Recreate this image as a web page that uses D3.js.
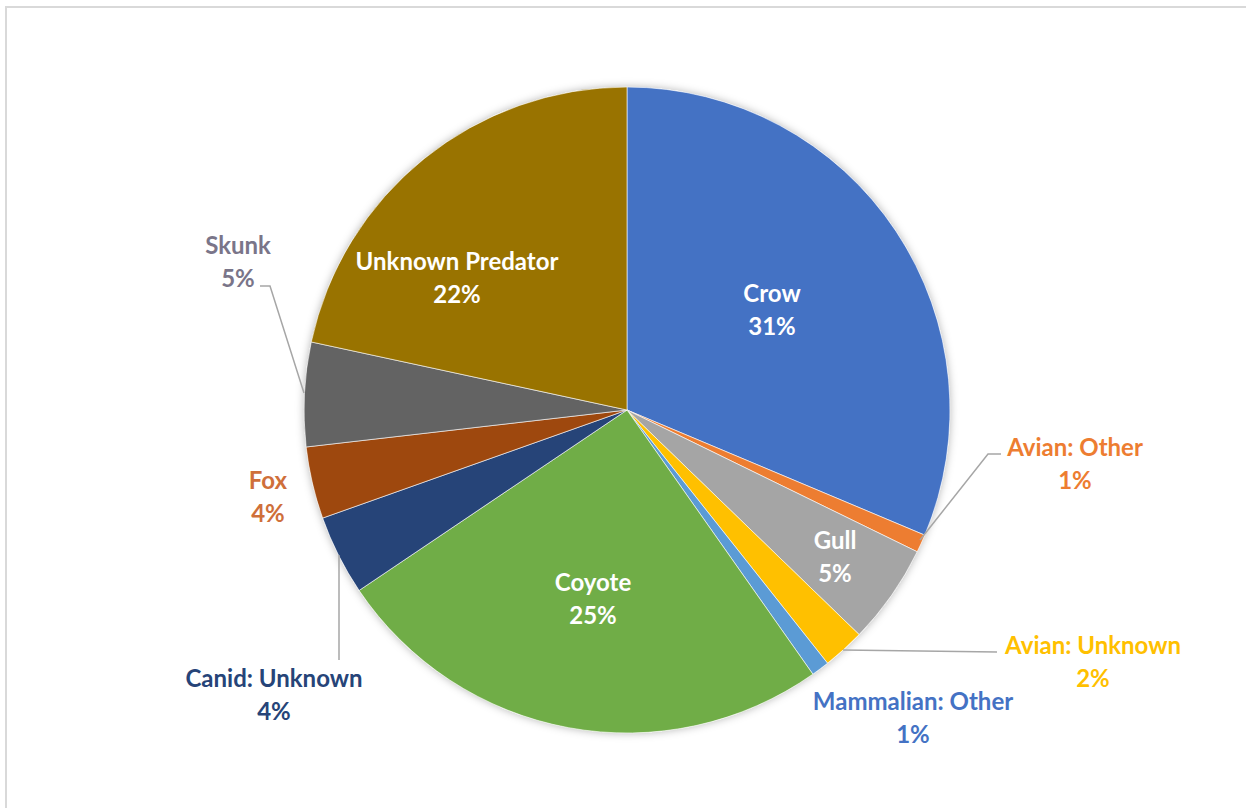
<!DOCTYPE html>
<html>
<head>
<meta charset="utf-8">
<script src="https://cdn.jsdelivr.net/npm/d3@7"></script>
<style>
  body { margin: 0; background: #fff; }
  svg { display: block; }
</style>
</head>
<body>
<svg id="chart" width="1246" height="808"></svg>
<script>
// slice data, clockwise from 12 o'clock
var categories = ["Crow", "Avian: Other", "Gull", "Avian: Unknown", "Mammalian: Other",
                  "Coyote", "Canid: Unknown", "Fox", "Skunk", "Unknown Predator"];
var shares = [31.3, 0.9, 5.0, 2.1, 0.9, 25.3, 4.0, 3.6, 5.2, 21.6];
var shareLabels = ["31%", "1%", "5%", "2%", "1%", "25%", "4%", "4%", "5%", "22%"];

var sliceColors = ["#4472C4", "#ED7D31", "#A5A5A5", "#FFC000", "#5B9BD5",
                   "#70AD47", "#264478", "#9E480E", "#636363", "#997300"];
var labelColors = ["#ffffff", "#ED7D31", "#ffffff", "#FFC000", "#4472C4",
                   "#ffffff", "#264478", "#CF6F3A", "#7A7589", "#ffffff"];

// label centres, relative to the pie centre
var labelPos = [[145, -101], [448, 53], [208, 146], [466, 251], [286, 307],
                [-34, 188], [-353, 284], [-359, 86], [-389, -149], [-170, -133]];
// leader lines (relative to centre), null = no line
var leaders = [null, [[293, 130], [361, 44], [374, 44]], null,
               [[216, 240], [370, 242]], null, null,
               [[-288, 145], [-288, 250]], null,
               [[-367, -124], [-357, -124], [-323, -17]], null];

var cx = 627, cy = 410, R = 323;

var svg = d3.select("#chart");

// chart area border
svg.append("rect")
  .attr("x", 6).attr("y", 7)
  .attr("width", 1300).attr("height", 900)
  .attr("fill", "none")
  .attr("stroke", "#d9d9d9")
  .attr("stroke-width", 2);

var defs = svg.append("defs");
var filt = defs.append("filter").attr("id", "shadow")
  .attr("x", "-10%").attr("y", "-10%").attr("width", "120%").attr("height", "120%");
filt.append("feDropShadow")
  .attr("dx", 0).attr("dy", 0).attr("stdDeviation", 4)
  .attr("flood-color", "#000").attr("flood-opacity", 0.3);

var g = svg.append("g").attr("transform", "translate(" + cx + "," + cy + ")");

var pie = d3.pie().sort(null).value(function(d) { return d; });
var arc = d3.arc().innerRadius(0).outerRadius(R);
var arcs = pie(shares);

g.append("circle").attr("r", R).attr("fill", "#fff").attr("filter", "url(#shadow)");

g.selectAll("path.slice")
  .data(arcs)
  .enter().append("path")
  .attr("class", "slice")
  .attr("d", arc)
  .attr("fill", function(d, i) { return sliceColors[i]; })
  .attr("stroke", "#ffffff")
  .attr("stroke-width", 0.6);

// leader lines
var line = d3.line();
g.selectAll("path.leader")
  .data(leaders.filter(function(d) { return d; }))
  .enter().append("path")
  .attr("class", "leader")
  .attr("d", line)
  .attr("fill", "none")
  .attr("stroke", "#a6a6a6")
  .attr("stroke-width", 1.5);

// labels
var lab = g.selectAll("text.lab")
  .data(categories)
  .enter().append("text")
  .attr("class", "lab")
  .attr("text-anchor", "middle")
  .attr("font-family", "Lato, 'Open Sans', sans-serif")
  .attr("font-weight", "bold")
  .attr("font-size", 24)
  .attr("fill", function(d, i) { return labelColors[i]; })
  .attr("transform", function(d, i) {
    return "translate(" + labelPos[i][0] + "," + labelPos[i][1] + ")";
  });

lab.append("tspan").attr("x", 0).attr("y", -7).text(function(d) { return d; });
lab.append("tspan").attr("x", 0).attr("y", 26).text(function(d, i) { return shareLabels[i]; });
</script>
</body>
</html>
